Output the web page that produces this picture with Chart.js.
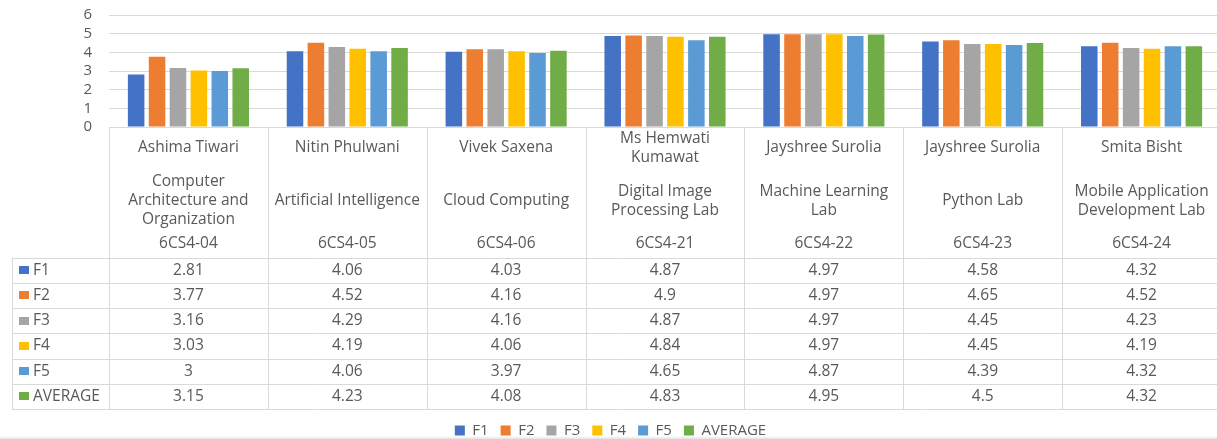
<!DOCTYPE html>
<html>
<head>
<meta charset="utf-8">
<script src="https://cdn.jsdelivr.net/npm/chart.js@4.4.1/dist/chart.umd.min.js"></script>
<style>
  html, body { margin: 0; padding: 0; background: #fff; overflow: hidden; }
  #wrap { width: 1217px; height: 439px; overflow: hidden; position: relative; }
  #wrap canvas { position: absolute; left: 0; top: 0; }
  #edge { position: absolute; left: 0; top: 436px; width: 1217px; height: 3px;
          background: linear-gradient(#ffffff, #e3e3e3); }
</style>
</head>
<body>
<div id="wrap"><canvas id="feedbackChart" width="1224" height="448"></canvas><div id="edge"></div></div>
<script>
// header rows of the data table (one per course column)
const faculty = ['Ashima Tiwari', 'Nitin Phulwani', 'Vivek Saxena', 'Ms Hemwati\nKumawat',
    'Jayshree Surolia', 'Jayshree Surolia', 'Smita Bisht'];
const subjects = ['Computer\nArchitecture and\nOrganization', 'Artificial Intelligence', 'Cloud Computing',
    'Digital Image\nProcessing Lab', 'Machine Learning\nLab', 'Python Lab', 'Mobile Application\nDevelopment Lab'];
const codes = ['6CS4-04', '6CS4-05', '6CS4-06', '6CS4-21', '6CS4-22', '6CS4-23', '6CS4-24'];

// feedback scores
const f1 = [2.81, 4.06, 4.03, 4.87, 4.97, 4.58, 4.32];
const f2 = [3.77, 4.52, 4.16, 4.9, 4.97, 4.65, 4.52];
const f3 = [3.16, 4.29, 4.16, 4.87, 4.97, 4.45, 4.23];
const f4 = [3.03, 4.19, 4.06, 4.84, 4.97, 4.45, 4.19];
const f5 = [3, 4.06, 3.97, 4.65, 4.87, 4.39, 4.32];
const average = [3.15, 4.23, 4.08, 4.83, 4.95, 4.5, 4.32];

const seriesNames = ['F1', 'F2', 'F3', 'F4', 'F5', 'AVERAGE'];
const seriesValues = [f1, f2, f3, f4, f5, average];
const seriesColors = ['#4472C4', '#ED7D31', '#A5A5A5', '#FFC000', '#5B9BD5', '#70AD47'];

const yMin = 0;
const yMax = 6;
const yStep = 1;

const TEXT = '#595959';
const LINE = '#d9d9d9';
const FONT = "'Open Sans', sans-serif";

Chart.defaults.font.family = FONT;
Chart.defaults.color = TEXT;

// draws the Excel style data table under the plot
const dataTablePlugin = {
    id: 'dataTable',
    afterDraw(chart) {
        const { ctx, chartArea } = chart;
        const xScale = chart.scales.x;
        const n = chart.data.labels.length;
        const colW = (chartArea.right - chartArea.left) / n;
        const top = chartArea.bottom;
        const headBottom = top + 130.5;
        const rowH = 25.25;
        const rows = chart.data.datasets.length;
        const bottom = headBottom + rows * rowH;
        const left = 12;

        ctx.save();
        ctx.strokeStyle = LINE;
        ctx.lineWidth = 1;
        ctx.beginPath();
        for (let i = 0; i <= n; i++) {
            const xx = Math.round(chartArea.left + i * colW) + 0.5;
            ctx.moveTo(xx, top);
            ctx.lineTo(xx, bottom);
        }
        ctx.moveTo(left + 0.5, headBottom);
        ctx.lineTo(left + 0.5, bottom);
        for (let r = 0; r <= rows; r++) {
            const yy = Math.round(headBottom + r * rowH) + 0.5;
            ctx.moveTo(left, yy);
            ctx.lineTo(chartArea.right + 10, yy);
        }
        ctx.stroke();

        ctx.fillStyle = TEXT;
        ctx.font = '15.5px ' + FONT;
        ctx.textAlign = 'center';
        ctx.textBaseline = 'middle';
        const lh = 19;
        const block = (text, cx, cy) => {
            const lines = text.split('\n');
            lines.forEach((ln, k) => {
                ctx.fillText(ln, cx, cy + (k - (lines.length - 1) / 2) * lh);
            });
        };
        for (let i = 0; i < n; i++) {
            const cx = xScale.getPixelForValue(i);
            block(faculty[i], cx, top + 21);
            block(subjects[i], cx, top + 74);
            block(codes[i], cx, top + 117);
        }

        chart.data.datasets.forEach((ds, r) => {
            const cy = headBottom + (r + 0.5) * rowH;
            ctx.fillStyle = ds.backgroundColor;
            ctx.fillRect(19, Math.round(cy) - 4, 10, 8);
            ctx.fillStyle = TEXT;
            ctx.textAlign = 'left';
            ctx.fillText(ds.label, 33, cy);
            ctx.textAlign = 'center';
            ds.data.forEach((v, i) => {
                ctx.fillText(String(v), xScale.getPixelForValue(i), cy);
            });
        });
        ctx.restore();
    }
};

const ctx = document.getElementById('feedbackChart').getContext('2d');
new Chart(ctx, {
    type: 'bar',
    data: {
        labels: codes,
        datasets: seriesNames.map((name, i) => ({
            label: name,
            data: seriesValues[i],
            backgroundColor: seriesColors[i],
            borderWidth: 0,
            categoryPercentage: 0.79,
            barPercentage: 0.79
        }))
    },
    options: {
        responsive: false,
        animation: false,
        devicePixelRatio: 1,
        layout: { padding: { top: 15, right: 3, left: 0, bottom: 0 } },
        plugins: {
            legend: {
                position: 'bottom',
                labels: {
                    boxWidth: 10,
                    boxHeight: 10,
                    padding: 12,
                    color: TEXT,
                    font: { size: 15 }
                }
            },
            tooltip: { enabled: false }
        },
        scales: {
            x: {
                grid: { display: false },
                border: { display: false },
                ticks: { display: false },
                afterFit(scale) { scale.height = 284; }
            },
            y: {
                min: yMin,
                max: yMax,
                ticks: { stepSize: yStep, autoSkip: false, padding: 17, color: TEXT, font: { size: 15 } },
                grid: { color: LINE, drawTicks: false },
                border: { display: false },
                afterFit(scale) {
                    scale.width = 109;
                    // the tick padding should not push the plot down
                    scale.paddingTop = 0;
                    scale.paddingBottom = 0;
                }
            }
        }
    },
    plugins: [dataTablePlugin]
});
</script>
</body>
</html>
